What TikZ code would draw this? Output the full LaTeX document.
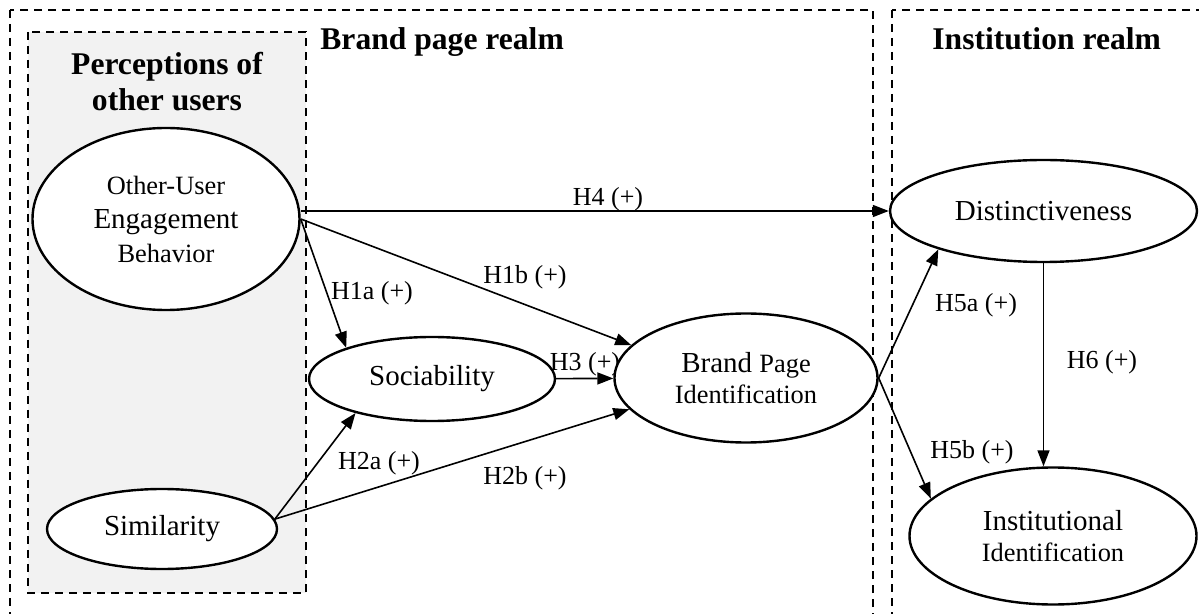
\documentclass[tikz,border=0pt]{standalone}
\usepackage{fontspec}
\setmainfont{Liberation Serif}
\usepackage{xcolor}
\usetikzlibrary{shapes.geometric,arrows.meta}
\definecolor{boxgray}{HTML}{F2F2F2}
\newcommand{\smtxt}{\fontsize{13.2}{15.5}\selectfont}

\begin{document}
\begin{tikzpicture}[x=0.5pt,y=-0.5pt,
    construct/.style={draw, ellipse, line width=1.2pt, fill=white, inner sep=0pt,
                      align=center, font=\fontsize{14.5}{15.5}\selectfont},
    realm/.style={draw, line width=0.8pt, dash pattern=on 4pt off 3pt},
    hyp/.style={-{Triangle[length=8pt,width=6pt]}, line width=0.8pt},
    hlabel/.style={font=\fontsize{13}{15}\selectfont, inner sep=1pt},
    title/.style={font=\fontsize{15.8}{18}\selectfont\bfseries}]
      \useasboundingbox (0,0) rectangle (1199,614);
      \clip (0,0) rectangle (1199,614);

      % Realms
      \draw[realm] (10,10) rectangle (873,640);
      \draw[realm] (892,10) rectangle (1230,640);
      \draw[realm, fill=boxgray] (28,32) rectangle (306,593);

      % Titles
      \node[title, align=center] (tperc) at (167,82) {Perceptions of\\other users};
      \node[title, anchor=base west, inner sep=0pt] (tbrand) at (320,50) {Brand page realm};
      \node[title, anchor=base west, inner sep=0pt] (tinst) at (932,50) {Institution realm};

      % Hypothesis labels
      \node[hlabel] (l4) at (608,199) {H4 (+)};
      \node[hlabel] (l1b) at (525,277) {H1b (+)};
      \node[hlabel] (l1a) at (372,293) {H1a (+)};
      \node[hlabel] (l3) at (585,364) {H3 (+)};
      \node[hlabel] (l2a) at (379,463) {H2a (+)};
      \node[hlabel] (l2b) at (525,478) {H2b (+)};
      \node[hlabel] (l5a) at (976,305) {H5a (+)};
      \node[hlabel] (l5b) at (972,452) {H5b (+)};
      \node[hlabel] (l6) at (1102,362) {H6 (+)};

      % Constructs
      \node[construct, minimum width=133.5pt, minimum height=91pt,
            font=\fontsize{14.5}{17}\selectfont] (ueb) at (166,219)
            {{\smtxt Other-User}\\Engagement\\{\smtxt Behavior}};
      \node[construct, minimum width=115pt, minimum height=40pt] (sim) at (162,529) {Similarity};
      \node[construct, minimum width=123pt, minimum height=42pt] (soc) at (432,379) {Sociability};
      \node[construct, minimum width=131.5pt, minimum height=64.5pt] (bpi) at (746,378)
            {Brand {\smtxt Page}\\{\smtxt Identification}};
      \node[construct, minimum width=153.5pt, minimum height=51pt] (dist) at (1043.5,211) {Distinctiveness};
      \node[construct, minimum width=143.5pt, minimum height=68.5pt] (inst) at (1053,536)
            {Institutional\\{\smtxt Identification}};

      % Paths
      \draw[hyp] (ueb.east |- dist.west) -- (dist.west);
      \draw[hyp] (ueb.east) -- (bpi.164);
      \draw[hyp] (ueb.east) -- (soc.160);
      \draw[hyp] (soc) -- (bpi);
      \draw[hyp] (sim.5) -- (soc.204);
      \draw[hyp] (sim.5) -- (bpi.195);
      \draw[hyp] (bpi.east) -- (dist.200);
      \draw[hyp] (bpi.east) -- (inst.163);
      \draw[hyp] (dist.south) -- (dist.south |- inst.north);
    \end{tikzpicture}
\end{document}
